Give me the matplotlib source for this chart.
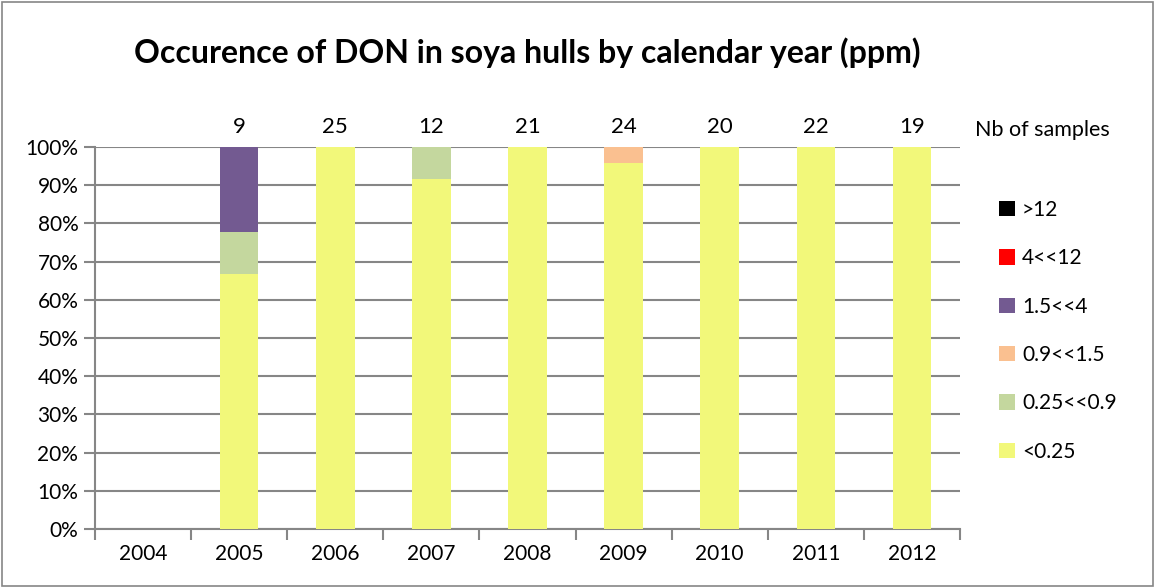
import matplotlib
matplotlib.use("Agg")
import matplotlib.pyplot as plt
from matplotlib.patches import Rectangle, Patch
import numpy as np

years = ["2004", "2005", "2006", "2007", "2008", "2009", "2010", "2011", "2012"]
n_samples = [None, 9, 25, 12, 21, 24, 20, 22, 19]
classes = ["<0.25", "0.25<<0.9", "0.9<<1.5", "1.5<<4", "4<<12", ">12"]
colors = ["#F2F87A", "#C4D79E", "#FAC090", "#735A91", "#FF0000", "#000000"]
# share of samples (%) per class, per year
lt025 = [0, 66.7, 100, 91.7, 100, 95.8, 100, 100, 100]
c025_09 = [0, 11.1, 0, 8.3, 0, 0, 0, 0, 0]
c09_15 = [0, 0, 0, 0, 0, 4.2, 0, 0, 0]
c15_4 = [0, 22.2, 0, 0, 0, 0, 0, 0, 0]
c4_12 = [0, 0, 0, 0, 0, 0, 0, 0, 0]
gt12 = [0, 0, 0, 0, 0, 0, 0, 0, 0]
series = [lt025, c025_09, c09_15, c15_4, c4_12, gt12]

plt.rcParams['font.family'] = ['Lato', 'DejaVu Sans']
W, H = 1157, 587
fig = plt.figure(figsize=(W / 100, H / 100), dpi=100)
fig.patches.append(Rectangle((2 / W, 1 / H), 1151 / W, 584 / H, transform=fig.transFigure,
                             fill=False, edgecolor="#868686", linewidth=1.2))

ax = fig.add_axes([95 / W, (H - 529) / H, 865 / W, 382 / H])
x = np.arange(len(years))
bottom = np.zeros(len(years))
for vals, col in zip(series, colors):
    v = np.array(vals, dtype=float)
    ax.bar(x, v, bottom=bottom, width=0.4, color=col, zorder=3)
    bottom += v

ax.set_xlim(-0.5, len(years) - 0.5)
ax.set_ylim(0, 100)
ax.set_yticks(np.arange(0, 101, 10))
ax.set_yticklabels([f"{v}%" for v in range(0, 101, 10)], fontsize=15)
ax.yaxis.grid(True, color="#868686", linewidth=1.5, zorder=0)
ax.tick_params(axis='y', length=8, color="#868686", width=1.5, pad=4)

ax.set_xticks(np.arange(-0.5, len(years), 1.0))
ax.set_xticklabels([])
ax.set_xticks(x, minor=True)
ax.set_xticklabels(years, minor=True, fontsize=15)
ax.tick_params(axis='x', which='major', length=8, color="#868686", width=1.5)
ax.tick_params(axis='x', which='minor', length=0, pad=11)

for s in ["top", "right"]:
    ax.spines[s].set_visible(False)
for s in ["left", "bottom"]:
    ax.spines[s].set_color("#868686")
    ax.spines[s].set_linewidth(1.5)

for xi, n in zip(x, n_samples):
    if n is not None:
        ax.text(xi, 102.5, str(n), ha='center', va='bottom', fontsize=16, clip_on=False)

fig.text(527 / W, 1 - 53 / H, "Occurence of DON in soya hulls by calendar year (ppm)",
         ha='center', va='center', fontsize=23, fontweight='bold')
fig.text(975 / W, 1 - 130 / H, "Nb of samples", ha='left', va='center', fontsize=15.5)

handles = [Patch(facecolor=c, edgecolor='none') for c in colors][::-1]
labels = classes[::-1]
leg = fig.legend(handles, labels, loc='upper left', bbox_to_anchor=(999 / W, 1 - 200 / H),
                 frameon=False, fontsize=15, handlelength=0.75, handleheight=0.75,
                 handletextpad=0.35, labelspacing=1.36, borderaxespad=0, borderpad=0)

fig.savefig("out.png", dpi=100)
